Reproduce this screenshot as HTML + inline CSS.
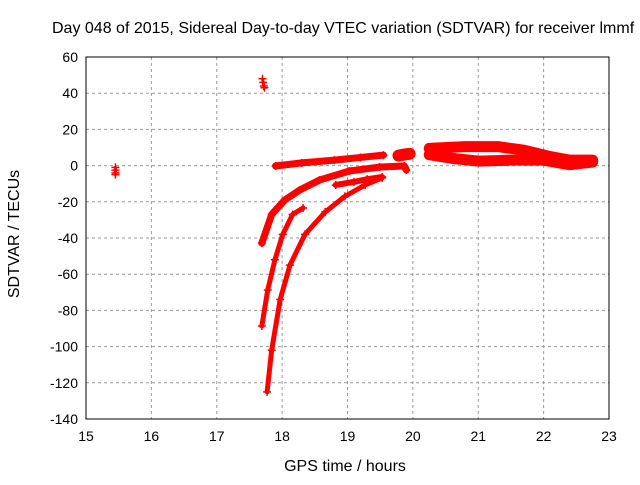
<!DOCTYPE html>
<html><head><meta charset="utf-8"><style>
body{margin:0;background:#fff;width:640px;height:480px;overflow:hidden;font-family:"Liberation Sans",sans-serif}
svg text{font-family:"Liberation Sans",sans-serif;font-size:14px;fill:#000}
svg text.big{font-size:16px}
</style></head><body>
<svg id="c" width="640" height="480">
<text class="big" x="52" y="33">Day 048 of 2015, Sidereal Day-to-day VTEC variation (SDTVAR) for receiver lmmf</text>
<text class="big" x="345" y="471" text-anchor="middle">GPS time / hours</text>
<text class="big" transform="translate(19,234) rotate(-90)" text-anchor="middle">SDTVAR / TECUs</text>
<g id="grid"></g><g id="marks"></g>
<rect x="86" y="57" width="523" height="362" fill="none" stroke="#000"/>
</svg>
<script>
const xTicks=[15,16,17,18,19,20,21,22,23];
const yTicks=[60,40,20,0,-20,-40,-60,-80,-100,-120,-140];
const isoA_x=[15.45,15.45,15.45,15.45];const isoA_y=[-1,-2.5,-4,-5];
const isoB_x=[17.7,17.71,17.72,17.73];const isoB_y=[48,46,44,43];
const trackA_x=[17.69,17.84,18.04,18.27,18.57,19.03,19.49,19.87,19.9];
const trackA_y=[-42.8,-27,-19,-13.5,-8,-3,-0.8,-0.2,-2.4];
const trackB_x=[17.9,18.3,18.8,19.2,19.55];const trackB_y=[-0.2,1.5,3,4.5,5.8];
const trackC_x=[17.69,17.78,17.89,18.01,18.16,18.32];const trackC_y=[-88.6,-68.7,-52,-38,-27,-23.4];
const trackD_x=[17.77,17.84,17.97,18.12,18.35,18.66,18.96,19.27,19.53];
const trackD_y=[-125,-102,-74,-55,-38,-25.6,-17,-10.7,-6.8];
const trackE_x=[18.82,19.1,19.3,19.53];const trackE_y=[-10.7,-9,-7.5,-6.3];
const clusterF_x=[19.78,19.85,19.95];const clusterF_y=[5.5,6,6.5];
const band1_x=[20.25,20.8,21.3,21.7,22.1,22.4,22.75];const band1_y=[9.5,10.5,10.5,8.5,5,3,3];
const band2_x=[20.25,20.6,21,21.5,22,22.4,22.75];const band2_y=[6,4,2.5,3,3,0.5,2];
const X=h=>86+(h-15)*65.375, Y=v=>57+(60-v)*1.81;
const NS="http://www.w3.org/2000/svg";
const g=document.getElementById('grid'),m=document.getElementById('marks');
function mk(t,a,p){const e=document.createElementNS(NS,t);for(const k in a)e.setAttribute(k,a[k]);p.appendChild(e);return e;}
xTicks.forEach(t=>{const x=X(t);
 if(t>15&&t<23){const l=mk('line',{x1:x,x2:x,y1:57,y2:419,stroke:'#999','stroke-dasharray':'3,3'},g);
 
 }
 const tx=mk('text',{x:x,y:441,'text-anchor':'middle'},g);tx.textContent=t;
 
 });
yTicks.forEach(t=>{const y=Y(t);
 if(t<60&&t>-140){const l=mk('line',{x1:86,x2:609,y1:y,y2:y,stroke:'#999','stroke-dasharray':'3,3'},g);
 
 }
 const tx=mk('text',{x:78,y:y+5,'text-anchor':'end'},g);tx.textContent=t;
 
 });
function series(xs,ys,w,name){
 const pts=xs.map((x,i)=>X(x)+','+Y(ys[i])).join(' ');
 const pl=mk('polyline',{points:pts,fill:'none',stroke:'#f00','stroke-width':w,'stroke-linejoin':'round','stroke-linecap':'round'},m);
 
 
 xs.forEach((x,i)=>{const px=X(x),py=Y(ys[i]);
  const p=mk('path',{d:`M${px-4},${py}h8M${px},${py-4}v8`,stroke:'#f00','stroke-width':1.5},m);
  
  });
}
series(isoA_x,isoA_y,3,'series-15h');
series(isoB_x,isoB_y,3,'series-17h');
series(trackA_x,trackA_y,7,'track-a');
series(trackB_x,trackB_y,7,'track-b');
series(trackC_x,trackC_y,5,'track-c');
series(trackD_x,trackD_y,5,'track-d');
series(trackE_x,trackE_y,6,'track-e');
series(clusterF_x,clusterF_y,12,'cluster-20h');
series(band1_x,band1_y,11,'band-upper');
series(band2_x,band2_y,11,'band-lower');
</script>
</body></html>
